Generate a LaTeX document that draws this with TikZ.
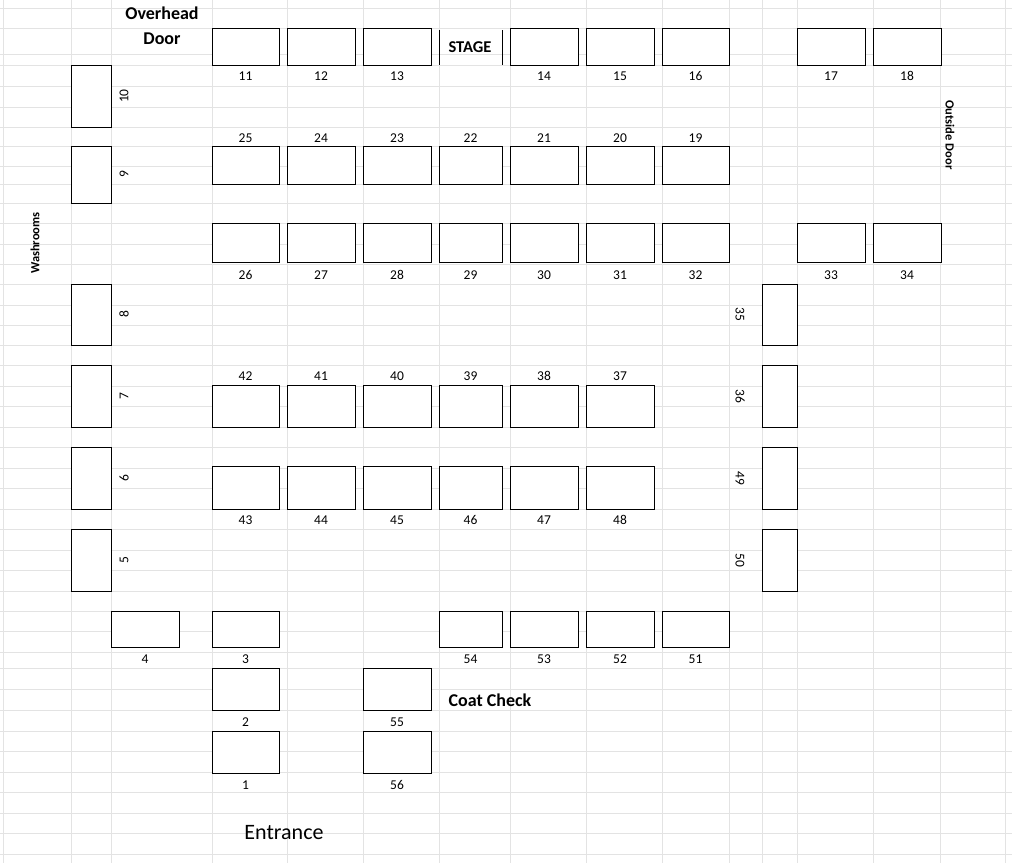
\documentclass[tikz,border=0pt]{standalone}
\usepackage{fontspec}
\setmainfont{Carlito}
\begin{document}
\begin{tikzpicture}[x=1pt,y=-1pt,
  tb/.style={draw=black,line width=0.8pt,fill=white},
  lb/.style={font=\fontsize{13.5}{15}\selectfont,inner sep=0pt},
  bl/.style={font=\fontsize{18}{20}\selectfont\bfseries,inner sep=0pt}]
\useasboundingbox (0,0) rectangle (1012,863);
\fill[white] (0,0) rectangle (1012,863);
\foreach \x in {3,71,111,212,287,363,439,510,586,662,729,762,797,873,940,1005}
  \draw[gray!22,line width=0.6pt] (\x,0) -- (\x,863);
\foreach \y in {8,28,54,65,86,107,127,146,166,184,203,223,244,264,284,305,325,345,365,386,406,427,447,468,488,509,529,550,570,591,611,631,652,668,689,710,731,751,772,792,813,833,854}
  \draw[gray!22,line width=0.6pt] (0,\y) -- (1012,\y);
% top row
\foreach \n/\a/\b in {11/212/279,12/287/355,13/363/431,14/510/578,15/586/654,16/662/729,17/797/865,18/873/941}{
  \draw[tb] (\a,28) rectangle (\b,65);
  \node[lb] (l\n) at ({(\a+\b)/2},76) {\n};}
\coordinate (s1) at (439,30); \coordinate (s2) at (439,65);
\coordinate (s3) at (502,30); \coordinate (s4) at (502,65);
\draw[line width=0.8pt] (s1)--(s2) (s3)--(s4);
\node[bl,font=\fontsize{16.5}{18}\selectfont\bfseries] (stage) at (470,47) {STAGE};
% row 2
\foreach \n/\a/\b in {25/212/279,24/287/355,23/363/431,22/439/502,21/510/578,20/586/654,19/662/729}{
  \draw[tb] (\a,146) rectangle (\b,184);
  \node[lb] (l\n) at ({(\a+\b)/2},138) {\n};}
% row 3
\foreach \n/\a/\b in {26/212/279,27/287/355,28/363/431,29/439/502,30/510/578,31/586/654,32/662/729,33/797/865,34/873/941}{
  \draw[tb] (\a,223) rectangle (\b,262);
  \node[lb] (l\n) at ({(\a+\b)/2},275) {\n};}
% row 42-37
\foreach \n/\a/\b in {42/212/279,41/287/355,40/363/431,39/439/502,38/510/578,37/586/654}{
  \draw[tb] (\a,385) rectangle (\b,427);
  \node[lb] (l\n) at ({(\a+\b)/2},376) {\n};}
% row 43-48
\foreach \n/\a/\b in {43/212/279,44/287/355,45/363/431,46/439/502,47/510/578,48/586/654}{
  \draw[tb] (\a,466) rectangle (\b,509);
  \node[lb] (l\n) at ({(\a+\b)/2},520) {\n};}
% bottom row
\foreach \n/\a/\b in {4/111/179,3/212/279,54/439/502,53/510/578,52/586/654,51/662/729}{
  \draw[tb] (\a,611) rectangle (\b,647);
  \node[lb] (l\n) at ({(\a+\b)/2},659) {\n};}
\foreach \n/\a/\b/\t in {2/212/279/668,55/363/431/668,1/212/279/731,56/363/431/731}{
  \draw[tb] (\a,\t) rectangle (\b,\t+42);
  \node[lb] (l\n) at ({(\a+\b)/2},\t+54) {\n};}
% left verticals
\foreach \n/\t/\b in {10/65/127,9/146/203,8/284/345,7/365/427,6/447/509,5/529/591}{
  \draw[tb] (71,\t) rectangle (111,\b);
  \node[lb,rotate=90] (l\n) at (124,{(\t+\b)/2}) {\n};}
% right verticals
\foreach \n/\t/\b in {35/284/345,36/365/427,49/447/509,50/529/591}{
  \draw[tb] (762,\t) rectangle (797,\b);
  \node[lb,rotate=-90] (l\n) at (740,{(\t+\b)/2}) {\n};}
\node[bl] (oh1) at (162,13) {Overhead};
\node[bl] (oh2) at (162,39) {Door};
\node[bl,font=\fontsize{12.5}{14}\selectfont\bfseries,rotate=90] (wash) at (35,243) {Washrooms};
\node[bl,font=\fontsize{12.5}{14}\selectfont\bfseries,rotate=-90] (out) at (950,135) {Outside Door};
\node[bl] (coat) at (490,700) {Coat Check};
\node[inner sep=0pt,font=\fontsize{22}{24}\selectfont] (ent) at (284,833) {Entrance};
\end{tikzpicture}
\end{document}
